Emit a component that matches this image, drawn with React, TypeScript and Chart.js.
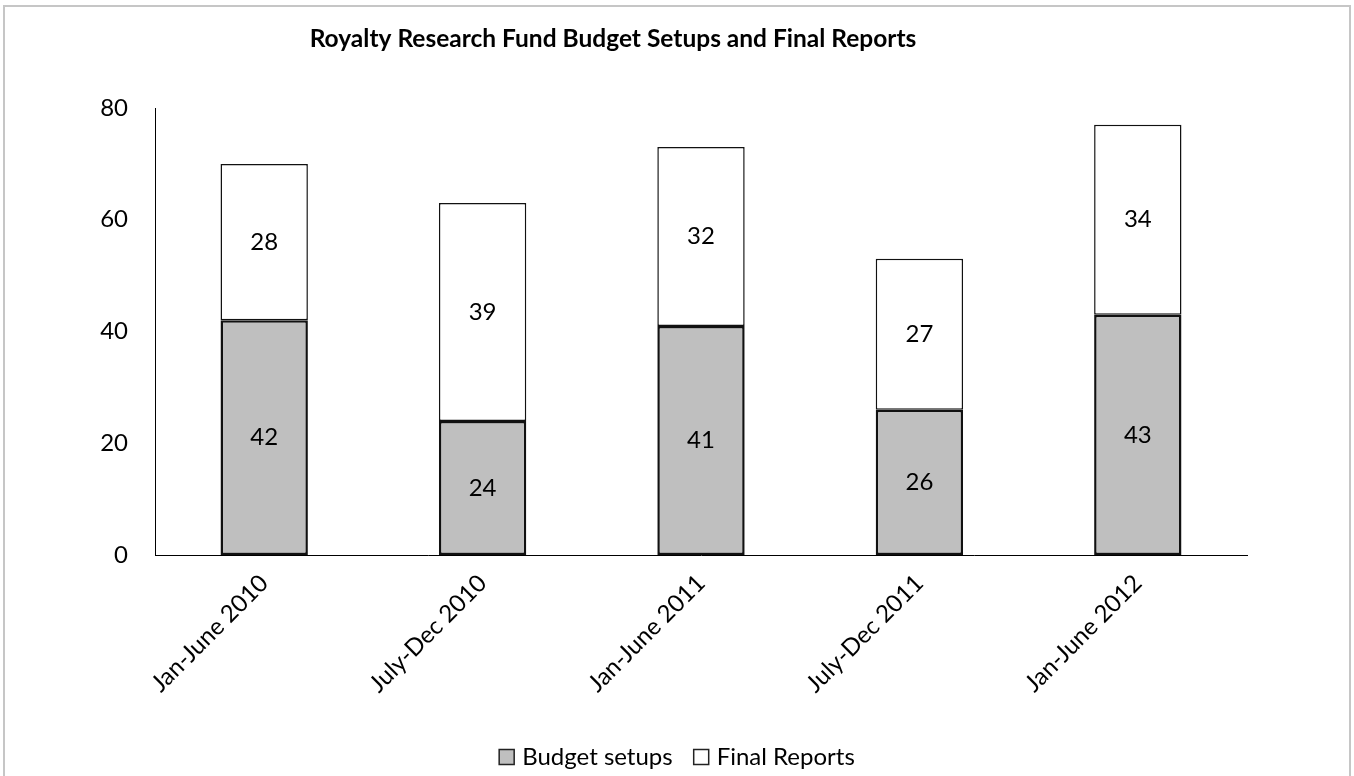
import React, { useEffect, useRef } from "react";
import { Chart, registerables } from "chart.js";

Chart.register(...registerables);

const chartTitle = "Royalty Research Fund Budget Setups and Final Reports";
const categories = ["Jan-June 2010", "July-Dec 2010", "Jan-June 2011", "July-Dec 2011", "Jan-June 2012"];
const seriesNames = ["Budget setups", "Final Reports"];
const budgetSetups = [42, 24, 41, 26, 43];
const finalReports = [28, 39, 32, 27, 34];
const yTickValues = [0, 20, 40, 60, 80];

const FONT = "Lato, 'Open Sans', sans-serif";
const W = 1354;
const H = 776;

const valueLabels = {
  id: "valueLabels",
  afterDatasetsDraw(chart: any) {
    const ctx = chart.ctx;
    ctx.save();
    ctx.font = `24px ${FONT}`;
    ctx.fillStyle = "#000";
    ctx.textAlign = "center";
    ctx.textBaseline = "middle";
    chart.data.datasets.forEach((ds: any, i: number) => {
      const meta = chart.getDatasetMeta(i);
      meta.data.forEach((bar: any, j: number) => {
        const p = bar.getProps(["x", "y", "base"], true);
        ctx.fillText(String(ds.data[j]), p.x, (p.y + p.base) / 2);
      });
    });
    ctx.restore();
  },
};

const titlePlugin = {
  id: "customTitle",
  afterDraw(chart: any, _args: any, opts: any) {
    const ctx = chart.ctx;
    ctx.save();
    ctx.font = `bold 24.5px ${FONT}`;
    ctx.fillStyle = "#000";
    ctx.textAlign = "center";
    ctx.textBaseline = "middle";
    ctx.fillText(opts.text, opts.x, opts.y);
    ctx.restore();
  },
};

const legendPlugin = {
  id: "customLegend",
  afterDraw(chart: any, _args: any, opts: any) {
    const ctx = chart.ctx;
    ctx.save();
    ctx.font = `24px ${FONT}`;
    ctx.textBaseline = "middle";
    ctx.textAlign = "left";
    const box = 15;
    const gapText = 8;
    const gapItem = 21;
    const items = chart.data.datasets.map((ds: any) => ({
      label: ds.label,
      fill: ds.backgroundColor,
      w: box + gapText + ctx.measureText(ds.label).width,
    }));
    const total = items.reduce((s: number, it: any) => s + it.w, 0) + gapItem * (items.length - 1);
    let x = chart.width / 2 - total / 2;
    const y = opts.y;
    items.forEach((it: any) => {
      ctx.fillStyle = it.fill;
      ctx.fillRect(x, y - box / 2, box, box);
      ctx.strokeStyle = "#222";
      ctx.lineWidth = 1.5;
      ctx.strokeRect(x, y - box / 2, box, box);
      ctx.fillStyle = "#000";
      ctx.fillText(it.label, x + box + gapText, y);
      x += it.w + gapItem;
    });
    ctx.restore();
  },
};

export default function App() {
  const ref = useRef<HTMLCanvasElement | null>(null);

  useEffect(() => {
    if (!ref.current) return;
    const chart = new Chart(ref.current, {
      type: "bar",
      data: {
        labels: categories,
        datasets: [
          {
            label: seriesNames[0],
            data: budgetSetups,
            backgroundColor: "#bfbfbf",
            borderColor: "#111",
            borderWidth: 2.5,
            borderSkipped: false,
            categoryPercentage: 1,
            barPercentage: 0.4,
          },
          {
            label: seriesNames[1],
            data: finalReports,
            backgroundColor: "#ffffff",
            borderColor: "#111",
            borderWidth: 1.5,
            borderSkipped: false,
            categoryPercentage: 1,
            barPercentage: 0.4,
          },
        ],
      },
      options: {
        responsive: false,
        animation: false,
        layout: { padding: { left: 0, right: 107, top: 108, bottom: 0 } },
        scales: {
          x: {
            stacked: true,
            grid: { display: false, drawTicks: false },
            border: { display: true, color: "#000", width: 1 },
            ticks: {
              color: "#000",
              font: { family: FONT, size: 24 },
              minRotation: 45,
              maxRotation: 45,
              padding: 14,
            },
            afterFit: (s: any) => {
              s.height = 221;
            },
          },
          y: {
            stacked: true,
            min: 0,
            max: 80,
            grid: { display: false, drawTicks: false },
            border: { display: true, color: "#000", width: 1 },
            afterBuildTicks: (s: any) => {
              s.ticks = yTickValues.map((v) => ({ value: v }));
            },
            ticks: {
              color: "#000",
              font: { family: FONT, size: 24 },
              padding: 27,
            },
            afterFit: (s: any) => {
              s.width = 155;
            },
          },
        },
        plugins: {
          legend: { display: false },
          tooltip: { enabled: false },
          customTitle: { text: chartTitle, x: 613, y: 39 },
          customLegend: { y: 757 },
        } as any,
      },
      plugins: [valueLabels, titlePlugin, legendPlugin],
    });
    return () => chart.destroy();
  }, []);

  return (
    <div style={{ position: "absolute", left: 0, top: 0, width: W, height: H, overflow: "hidden", background: "#fff" }}>
      <div
        style={{
          position: "absolute",
          left: 3,
          top: 5,
          width: 1348,
          height: 800,
          border: "2px solid #c6c6c6",
          boxSizing: "border-box",
        }}
      />
      <canvas ref={ref} width={W} height={H} style={{ position: "absolute", left: 0, top: 0, width: W, height: H }} />
    </div>
  );
}
